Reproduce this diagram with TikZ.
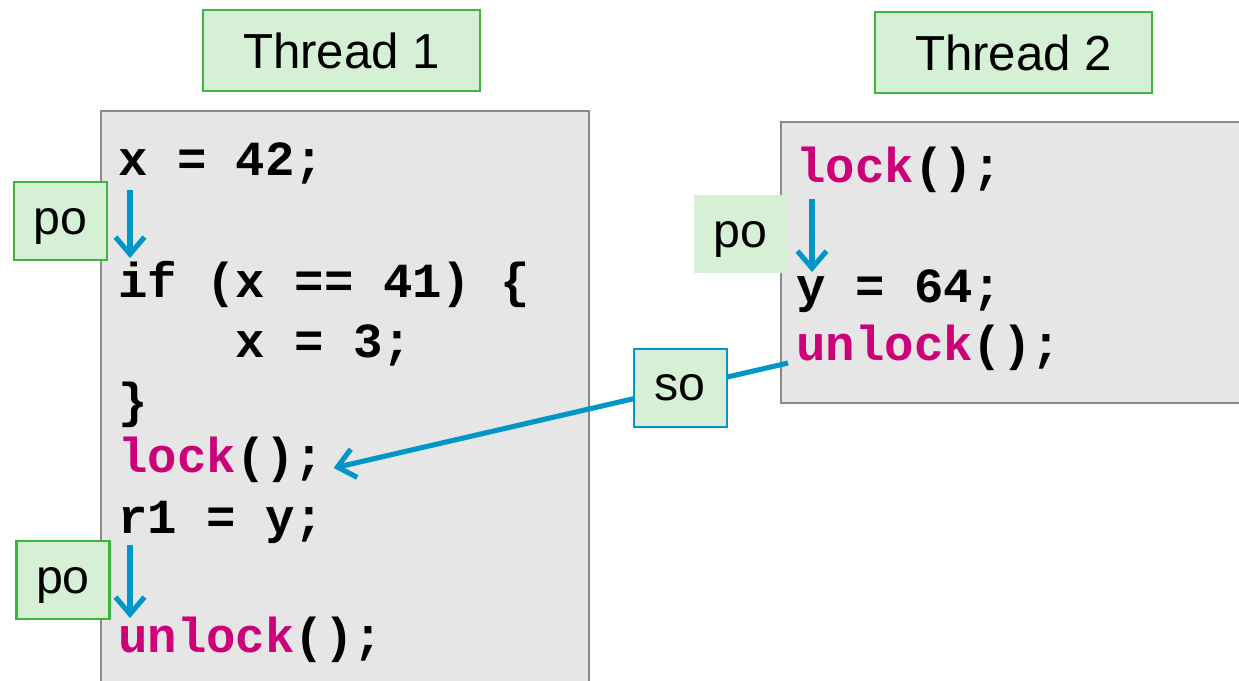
\documentclass[tikz,border=0pt]{standalone}
\usepackage{fontspec}
\setmainfont{Liberation Sans}
\newfontfamily\codefont{Liberation Mono}
\usepackage{xcolor}
\usetikzlibrary{arrows.meta, positioning}

\definecolor{tagfill}{RGB}{213,240,213}
\definecolor{tagline}{RGB}{60,182,60}
\definecolor{boxfill}{RGB}{230,230,230}
\definecolor{boxline}{RGB}{138,138,138}
\definecolor{relblue}{RGB}{0,150,200}
\definecolor{kwcol}{RGB}{204,0,119}
\newcommand{\kw}[1]{\textcolor{kwcol}{#1}}

\begin{document}
\begin{tikzpicture}[x=0.02cm, y=-0.02cm]
    \tikzstyle{threadtag} = [rectangle, draw=tagline, line width=1.2pt, fill=tagfill, minimum width=5.54cm, minimum height=1.62cm, font=\fontsize{28}{30}\selectfont]
    \tikzstyle{potag} = [rectangle, draw=tagline, line width=1.2pt, fill=tagfill, minimum width=1.86cm, minimum height=1.56cm, text depth=0pt, font=\fontsize{27.5}{30}\selectfont]
    \tikzstyle{sotag} = [potag, draw=relblue]
    \tikzstyle{codebox} = [draw=boxline, line width=1.2pt, fill=boxfill]
    \tikzstyle{codeline} = [inner sep=0pt, anchor=base west, font=\codefont\bfseries\fontsize{27.9}{33}\selectfont]
    \tikzstyle{rel} = [draw=relblue, line width=2.9pt, -{Straight Barb[length=0.34cm, width=0.58cm]}]

    \clip (0,0) rectangle (1239,680);

    % thread boxes
    \draw [codebox] (101,111) rectangle (589,700);
    \draw [codebox] (781,122) rectangle (1250,403);
    \node [threadtag] (th1) at (341.5,50.5) {Thread 1};
    \node [threadtag] (th2) at (1013.5,52.5) {Thread 2};

    % thread 1
    \node [codeline] (a1) at (118,175) {x = 42;};
    \node [codeline] (a2) at (118,297) {if (x == 41) \{};
    \node [codeline] (a3) at (235,357) {x = 3;};
    \node [codeline] (a4) at (118,417) {\}};
    \node [codeline] (a5) at (118,472) {\kw{lock}();};
    \node [codeline] (a6) at (118,533) {r1 = y;};
    \node [codeline] (a7) at (118,652) {\kw{unlock}();};

    % thread 2
    \node [codeline] (b1) at (796,182) {\kw{lock}();};
    \node [codeline] (b2) at (796,302) {y = 64;};
    \node [codeline] (b3) at (796,360) {\kw{unlock}();};

    \node [potag] (po1) at (60.5,221) {po};
    \node [potag] (po2) at (63,580) {po};
    \node [potag, draw=none] (po3) at (740,234) {po};

    \path [rel] ([shift={(12,15)}]a1.base west) -- ([shift={(12,-39)}]a2.base west);
    \path [rel] ([shift={(12,12)}]a6.base west) -- ([shift={(12,-34)}]a7.base west);
    \path [rel] ([shift={(16,17)}]b1.base west) -- ([shift={(16,-30)}]b2.base west);
    \path [rel] ([shift={(-8,3)}]b3.base west) -- node[sotag, pos=0.237] (so) {so} ([shift={(9,-4)}]a5.base east);
\end{tikzpicture}
\end{document}
